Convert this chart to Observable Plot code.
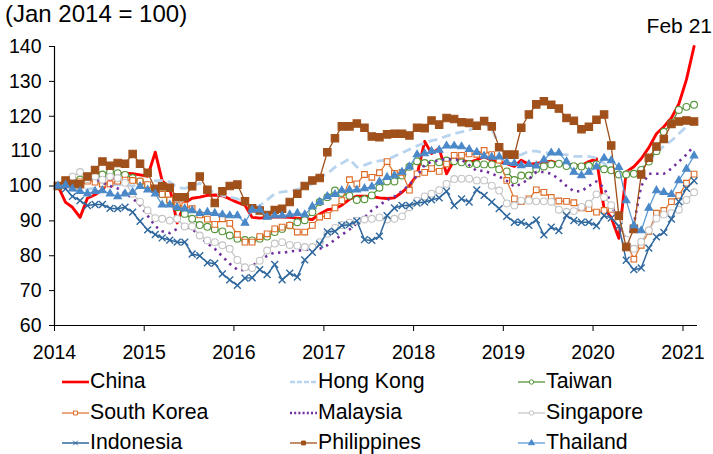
<!DOCTYPE html>
<html><head><meta charset="utf-8">
<script src="https://cdn.jsdelivr.net/npm/d3@7"></script>
<script src="https://cdn.jsdelivr.net/npm/@observablehq/plot@0.6"></script>
<style>
body{margin:0;background:#fff;font-family:"Liberation Sans",Arial,sans-serif;color:#000;}
#wrap{position:relative;width:713px;height:454px;overflow:hidden;background:#fff;}
#chart{position:absolute;left:0;top:0;}
#title{position:absolute;left:5px;top:1px;font-size:24px;line-height:1.1;white-space:nowrap;}
#feb{position:absolute;right:1px;top:14px;font-size:21px;line-height:1.1;white-space:nowrap;}
.item{position:absolute;height:21px;display:flex;align-items:center;font-size:21.3px;line-height:1;white-space:nowrap;}
.item svg{display:block;margin-right:1px;}
</style>
</head><body>
<div id="wrap">
  <div id="chart"></div>
  <div id="title">(Jan 2014 = 100)</div>
  <div id="feb">Feb 21</div>
  <div id="legend"></div>
</div>
<script>
// ---------------- data (monthly, Jan 2014 .. Feb 2021; Jan 2014 = 100) ----------------
const seriesNames = ["China","Hong Kong","Taiwan","South Korea","Malaysia","Singapore","Indonesia","Philippines","Thailand"];
const yearTicks = [2014,2015,2016,2017,2018,2019,2020,2021];
const yTicks = [60,70,80,90,100,110,120,130,140];

const china = [100,95.3,93.9,91,96.5,97.5,99,101.5,103.5,103.7,
103.5,103.2,102.8,109.7,101.5,99.5,89.4,95.2,96.5,96.8,
97.3,97.4,97.2,96.3,95.3,94.5,91,90.8,91,91.1,
91.1,91,90.8,90.6,90.4,92,93.2,93.5,94.5,96.2,
97.1,97.1,97,96.6,96.4,96.6,98.2,100.1,103.2,112.8,
109.3,110.8,103.5,107.5,107.5,106.8,107.5,108.4,107.3,106.9,
106.4,105.6,107.4,106.2,106.5,106.8,107.1,106.4,106.2,106,
105.9,107,107.8,93.5,91,85,104,105.5,107.8,111,
115,117,119.5,123.5,130.5,140];

const hongKong = [100,99.5,98.8,98.5,99,99.5,100,100.3,100.5,100.2,
100,100.5,101,101.5,101.5,101.2,99.5,99.3,100,100.8,
99.5,97.8,97.3,96.8,96.3,95.5,93.5,94.4,96,97.8,
98.3,98.5,99,99.7,100.6,102.5,103.5,105.4,106.5,107.8,
105.4,106,106.8,107.2,107.5,108.5,109.5,110.5,111.5,112.3,
113,113.5,114.3,115,115.5,116,117,118,116.5,111.5,
108.5,108.5,109,110,110,109.5,109.5,109,109,108.5,
108.5,108.5,108,106.5,104,103.5,104,104,105,107,
109.5,111.5,113,115,117,119];

const taiwan = [100,100.8,102,101.8,102.3,102.8,103.3,104,103.7,103.2,
102.3,101.3,100.1,98.9,97.6,95.8,93.9,92,90.6,88.8,
88.3,87.6,87,85.8,84.9,84.5,84.4,84.9,85.5,86.8,
87.7,88.7,89.6,90.2,92.5,95.4,96.8,98.7,98,97.2,
96,96.2,97.3,99.5,101.3,101.3,103,105.5,107.1,106.6,
106.4,106.8,107.3,107.1,106.8,106.3,106.3,106.2,106.2,104.8,
104.2,101.7,103,103,104.9,105.6,106.2,106.4,105.7,105.7,
105.6,105.8,106.2,104.8,104.5,103.3,103.3,103.5,104.6,107,
110,115.5,118,121.8,122.7,123.3];

const southKorea = [100,100.5,100.8,101.2,101.4,101.1,100.6,100.6,101.4,101.7,
101.6,101.4,100.4,99,97.6,96,94.4,94.4,93.5,91.7,
90.5,89,90.6,89.3,86.1,83.9,83.9,85.5,86.3,87.7,
88.2,88.7,86.8,86.8,88.7,91.1,91.5,93.7,95.8,101.8,
100.6,103.3,102.5,103.8,107,103.6,103.9,98.8,103.5,103.9,
105,104.2,106.3,108.8,108.8,109.2,109.1,110.2,109,107.4,
101.6,96.3,95.5,96.3,98.9,98.2,96.7,95.7,95.6,95.2,
93.7,93.5,92.5,93,93.3,90.5,84,79,83,87,
92.2,93,95.5,97.3,100.8,103.4];

const malaysia = [100,99.5,100.2,101.5,102.3,102,101,100,99.3,98,
96.5,94.5,91.5,88.5,87,86.5,87.7,88.5,87.8,85.5,
83.5,82,79.8,77.7,76,75.8,77,78.6,80,81,
80.8,81.2,81.5,81.6,82,82,83,84.6,86,87.5,
89.3,91,93,94.5,96,97,98.5,100.3,103,106,
107,107.3,107.8,107.5,107.5,106,104.3,104.4,103.5,102.7,
101.5,99.8,100.6,102,104,104,103.5,102,100,98.5,
98.5,100,101.3,99.5,95,89,84.4,89,100,103.5,
103.5,103.5,105,107,109,111.5];

const singapore = [100,101,102.7,104,102,102.7,101.8,102.7,102.3,100.9,
97.8,95.5,93,90.8,90.6,90.1,90.6,88.4,88.4,85.8,
84.4,83.9,83,82,78.8,76.7,76.5,78.6,81.5,83.5,
83.9,83.1,82.9,82.5,82.5,83.9,86.3,88,88.8,89.5,
90,90.4,90.6,91,90.4,90.6,91.3,93.9,95.8,97,
97.8,98.8,100.6,102,102.1,102.1,101.6,101.6,100.1,98.7,
95,94.4,95.8,95.8,95.6,95.6,95.5,93.2,92.6,92.8,
94,94.9,97.6,96.8,94.5,89.5,84.6,82,84,87.3,
90.7,91.8,92.2,93.2,96,98.2];

const indonesia = [100,99.2,97,95.8,94.4,94.7,94.7,93.6,93.5,93.9,
92.5,89.9,87.4,86.1,85.1,84.5,83.9,83.9,80.5,80,
78,77.8,74.8,73.1,71.5,73.6,73.7,76,74.6,77.5,
73.1,75,73.9,78.8,81,83.3,86.8,87,88.7,88.9,
90,84.6,84.4,85.6,91.5,93.7,94.4,94.4,95.1,95.4,
96,96.6,98.5,94.4,96.3,95.4,98.9,97.3,95.4,93.5,
91.3,89.6,89.6,88.7,90.3,86,88.2,87.2,91.6,90.1,
89.6,89.6,88.6,91.5,90.8,88.5,78.7,76,76.5,82.2,
85.4,86.7,90.5,95.5,99.3,101.5];

const philippines = [100,101.6,100.6,100.5,102.7,104.6,107,105.8,106.6,106.4,
109.2,106.4,103.8,99.2,99.9,99.5,96.8,96.8,99.9,102.7,
98.9,95.1,98.5,100,100.4,95.6,93.6,93,91.7,93.1,
93.5,95.4,97.8,100,101.6,102.3,109.7,113.7,117.1,117.1,
117.9,116.7,114.2,114,114.8,115,115,114.5,116.7,116.6,
118.8,117.6,119.5,119.2,118.3,118.1,117.3,118.6,117.1,111.1,
109,109,116.7,120.5,123.4,124.3,123.3,122.2,119.5,118.7,
116.3,117,119,120.5,111.6,91.5,82.5,87.7,103.3,108.1,
111.3,113.5,117.8,118.5,118.8,118.5];

const thailand = [100,100.3,99.2,98.5,97.8,98.5,98.7,97.8,97,97.8,
98.2,99.9,98.9,97.8,94.6,94.6,93.9,93.5,93,92.2,
92.5,92.2,91.8,91.5,91.5,89.4,93.2,93.2,91.1,91.5,
91.5,91.8,92.2,91.8,94.1,95.4,97,97.6,98.7,98.9,
98.9,99.3,99.8,101.2,102.5,103,104,105.5,109,109.3,
110,110.3,111.5,111.5,111.3,110.5,109.7,108.6,108.3,108.4,
106.8,106.5,105.9,106.2,105.8,107.5,109.5,109.5,107,104,
103,104,105.5,108,107.3,105.4,95.8,88.7,87.2,93.7,
98.7,98.2,97.6,101.6,104.9,108.7];

const seriesValues = [china, hongKong, taiwan, southKorea, malaysia, singapore, indonesia, philippines, thailand];

// ---------------- styles ----------------
const styles = {
  "China":       {color:"#FF0000", width:2.9},
  "Hong Kong":   {color:"#B8D4EF", width:2.8, dash:"9,5"},
  "Taiwan":      {color:"#559438", width:1.3, symbol:"circle", r:3.4, fill:"#fff", mstroke:"#559438"},
  "South Korea": {color:"#DD7A37", width:1.3, symbol:"square", r:3.2, fill:"#fff", mstroke:"#DD6A25"},
  "Malaysia":    {color:"#7030A0", width:2.6, dash:"2.4,4.6"},
  "Singapore":   {color:"#C8C8C8", width:1.3, symbol:"circle", r:3.4, fill:"#fff", mstroke:"#C4C4C4"},
  "Indonesia":   {color:"#2F689E", width:1.5, symbol:"times", r:3.2, fill:"none", mstroke:"#2F689E"},
  "Philippines": {color:"#A0501A", width:1.3, symbol:"square", r:4.2, fill:"#A0501A", mstroke:"#A0501A"},
  "Thailand":    {color:"#5B9BD5", width:1.3, symbol:"triangle", r:2.8, fill:"#4A88C8", mstroke:"#4A88C8"}
};

// ---------------- build table ----------------
const monthDate = i => new Date(Date.UTC(2014, i, 15));
const rows = [];
seriesNames.forEach((name, k) => {
  seriesValues[k].forEach((v, i) => rows.push({name, date: monthDate(i), value: v}));
});

const marks = [];
seriesNames.forEach(name => {
  const s = styles[name];
  const d = rows.filter(r => r.name === name);
  marks.push(Plot.line(d, {x:"date", y:"value", stroke:s.color, strokeWidth:s.width,
    strokeDasharray:s.dash, strokeLinejoin:"round", strokeLinecap: s.dash ? "butt" : "round"}));
  if (s.symbol) {
    marks.push(Plot.dot(d, {x:"date", y:"value", symbol:s.symbol, r:s.r, fill:s.fill,
      stroke:s.mstroke, strokeWidth: s.symbol==="times" ? 1.4 : 1.1}));
  }
});

const x0 = new Date(Date.UTC(2014,0,1));
const x1 = new Date(Date.UTC(2021,2,1));
marks.push(Plot.ruleY([60], {stroke:"#000", strokeWidth:1.2}));
marks.push(Plot.ruleX([x0], {stroke:"#000", strokeWidth:1.2}));

const chart = Plot.plot({
  width: 713, height: 370,
  marginLeft: 54, marginRight: 16, marginTop: 46, marginBottom: 45,
  style: {fontSize:"19.5px", fontFamily:"'Liberation Sans', Arial, sans-serif", color:"#000", background:"transparent", overflow:"visible"},
  x: {type:"utc", domain:[x0, x1], ticks: yearTicks.map(y => new Date(Date.UTC(y,0,1))),
      tickFormat: d => String(d.getUTCFullYear()), tickSize: 6, tickPadding: 14, label: null},
  y: {domain:[60,140], ticks: yTicks, tickSize: 5, tickPadding: 8, label: null},
  marks
});
document.getElementById("chart").appendChild(chart);

// ---------------- legend ----------------
const legend = document.getElementById("legend");
const colX = [62, 290, 518];
const rowY = [371, 402, 432];
seriesNames.forEach((name, i) => {
  const s = styles[name];
  const item = document.createElement("div");
  item.className = "item";
  item.style.left = colX[i % 3] + "px";
  item.style.top = rowY[Math.floor(i / 3)] + "px";
  const svg = d3.create("svg").attr("width", 27).attr("height", 16);
  svg.append("line").attr("x1", 0).attr("x2", 27).attr("y1", 8).attr("y2", 8)
    .attr("stroke", s.color).attr("stroke-width", Math.min(s.width, 2.6))
    .attr("stroke-dasharray", name === "Hong Kong" ? "5,2" : (name === "Malaysia" ? "2,2.2" : null));
  if (s.symbol) {
    const sym = {circle: d3.symbolCircle, square: d3.symbolSquare, triangle: d3.symbolTriangle, times: d3.symbolTimes}[s.symbol];
    svg.append("path").attr("d", d3.symbol(sym, Math.PI * 2.2 * 2.2)())
      .attr("transform", "translate(13.5,8)")
      .attr("fill", s.fill).attr("stroke", s.mstroke).attr("stroke-width", 1);
  }
  item.appendChild(svg.node());
  const t = document.createElement("span");
  t.textContent = name;
  item.appendChild(t);
  legend.appendChild(item);
});
</script>
</body></html>
